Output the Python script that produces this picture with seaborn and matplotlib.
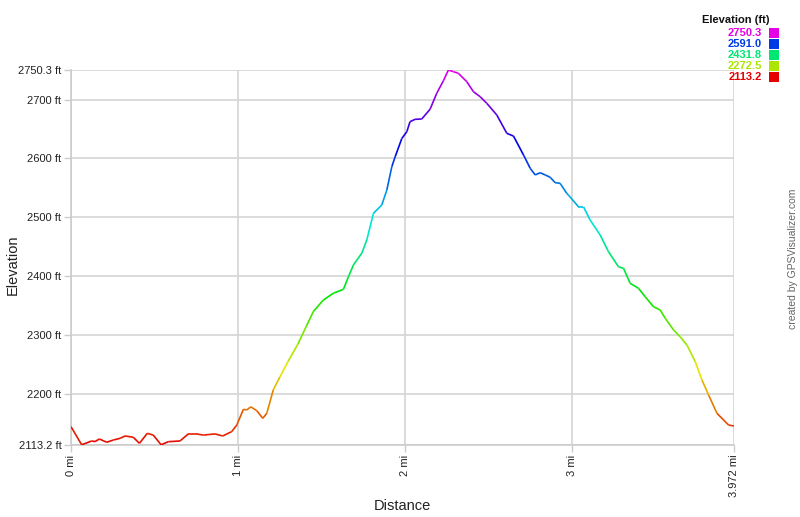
import numpy as np
import matplotlib
matplotlib.use("Agg")
import matplotlib.pyplot as plt
import seaborn as sns
from matplotlib.collections import LineCollection
from matplotlib.colors import hsv_to_rgb
from matplotlib.patches import Rectangle

# Track profile (miles, feet)
dist_mi = [0.0, 0.064, 0.124, 0.144, 0.17, 0.214, 0.254, 0.294, 0.324, 0.373,
           0.41, 0.457, 0.493, 0.54, 0.583, 0.653, 0.703, 0.753, 0.793, 0.863,
           0.909, 0.963, 0.993, 1.033, 1.053, 1.077, 1.113, 1.149, 1.173, 1.212,
           1.252, 1.30, 1.36, 1.41, 1.452, 1.512, 1.572, 1.632, 1.662, 1.692,
           1.742, 1.772, 1.812, 1.862, 1.892, 1.922, 1.942, 1.982, 2.012, 2.031,
           2.061, 2.101, 2.151, 2.191, 2.231, 2.261, 2.291, 2.321, 2.371, 2.411,
           2.451, 2.491, 2.551, 2.611, 2.651, 2.711, 2.751, 2.781, 2.811, 2.841,
           2.871, 2.90, 2.93, 2.97, 2.98, 3.04, 3.07, 3.11, 3.17, 3.22,
           3.28, 3.31, 3.35, 3.40, 3.44, 3.49, 3.53, 3.56, 3.61, 3.65,
           3.69, 3.74, 3.78, 3.82, 3.87, 3.94, 3.972]
elev_ft = [2144.3, 2113.5, 2120.0, 2119.0, 2123.4, 2117.8, 2121.7, 2124.5, 2128.5, 2126.3,
           2116.0, 2133.0, 2130.0, 2113.5, 2118.8, 2120.0, 2132.0, 2132.0, 2130.0, 2132.0,
           2128.5, 2136.0, 2147.0, 2173.8, 2172.7, 2178.0, 2171.5, 2158.5, 2167.0, 2207.0,
           2229.0, 2255.0, 2285.0, 2315.0, 2340.0, 2359.5, 2371.0, 2377.7, 2399.0, 2419.0,
           2439.0, 2461.5, 2506.8, 2521.0, 2546.4, 2586.0, 2603.0, 2634.0, 2645.5, 2662.5,
           2666.5, 2667.0, 2683.5, 2710.7, 2732.0, 2750.3, 2747.5, 2744.6, 2730.5, 2713.4,
           2705.0, 2693.7, 2673.8, 2642.7, 2638.0, 2605.9, 2583.3, 2572.0, 2575.8, 2572.0,
           2568.0, 2558.9, 2557.8, 2540.8, 2537.9, 2518.0, 2518.0, 2495.5, 2470.0, 2441.6,
           2416.0, 2413.4, 2387.9, 2379.4, 2365.0, 2348.0, 2342.5, 2328.4, 2308.6, 2297.0,
           2283.0, 2254.7, 2223.6, 2198.0, 2167.0, 2147.0, 2145.5]

x_ticks = [0, 1, 2, 3, 3.972]
x_labels = ["0 mi", "1 mi", "2 mi", "3 mi", "3.972 mi"]
y_ticks = [2113.2, 2200, 2300, 2400, 2500, 2600, 2700, 2750.3]
y_labels = ["2113.2 ft", "2200 ft", "2300 ft", "2400 ft", "2500 ft", "2600 ft", "2700 ft", "2750.3 ft"]
legend_vals = [2750.3, 2591.0, 2431.8, 2272.5, 2113.2]

emin, emax = 2113.2, 2750.3


def elev_color(e):
    # red at the bottom, through yellow/green/cyan/blue, magenta at the top
    h = (e - emin) / (emax - emin) * 300.0 / 360.0
    return hsv_to_rgb([h, 1.0, 0.9])


sns.set_theme(style="white")
plt.rcParams["font.family"] = ["Liberation Sans", "DejaVu Sans"]

fig = plt.figure(figsize=(8, 5.17), dpi=100)
ax = fig.add_axes([0.08875, 0.1393, 0.82875, 0.7253])

x = np.array(dist_mi)
y = np.array(elev_ft)
pts = np.column_stack([x, y]).reshape(-1, 1, 2)
segs = np.concatenate([pts[:-1], pts[1:]], axis=1)
mid = (y[:-1] + y[1:]) / 2
lc = LineCollection(segs, colors=[elev_color(e) for e in mid], linewidths=1.2, zorder=3)
ax.add_collection(lc)

ax.set_xlim(0, 3.972)
ax.set_ylim(emin, emax)
ax.set_xticks(x_ticks)
ax.set_xticklabels(x_labels, rotation=90, fontsize=8, color="#222222")
ax.set_yticks(y_ticks)
ax.set_yticklabels(y_labels, fontsize=8, color="#222222")
ax.tick_params(axis="both", which="major", length=5, width=1, color="#cccccc",
               pad=2, left=True, bottom=True)
ax.grid(True, color="#d4d4d4", linewidth=1.2)
for side in ["top", "right"]:
    ax.spines[side].set_visible(False)
for side in ["left", "bottom"]:
    ax.spines[side].set_color("#cccccc")
    ax.spines[side].set_linewidth(1.2)

# axis titles placed where the reference has them
fig.text(402 / 800, 1 - 506 / 517, "Distance", fontsize=10.5, color="#222222",
         ha="center", va="center")
fig.text(13 / 800, 1 - 265 / 517, "Elevation", fontsize=10.5, color="#222222",
         ha="center", va="center", rotation=90)

# credit text on the right
fig.text(793 / 800, 0.5, "created by GPSVisualizer.com", rotation=90, fontsize=7.5,
         color="#666666", ha="center", va="center")

# colour key in the top right corner
fig.text(0.9625, 1 - 20 / 517, "Elevation (ft)", fontsize=8, fontweight="bold",
         color="#111111", ha="right", va="center")
for i, v in enumerate(legend_vals):
    yc = 1 - (33 + i * 11) / 517
    c = elev_color(v)
    fig.text(0.952, yc, f"{v:.1f}", fontsize=8, fontweight="bold", color=c,
             ha="right", va="center")
    fig.patches.append(Rectangle((769 / 800, yc - 5 / 517), 10 / 800, 10 / 517,
                                 transform=fig.transFigure, facecolor=c,
                                 edgecolor="none"))

fig.savefig("out.png", dpi=100)
